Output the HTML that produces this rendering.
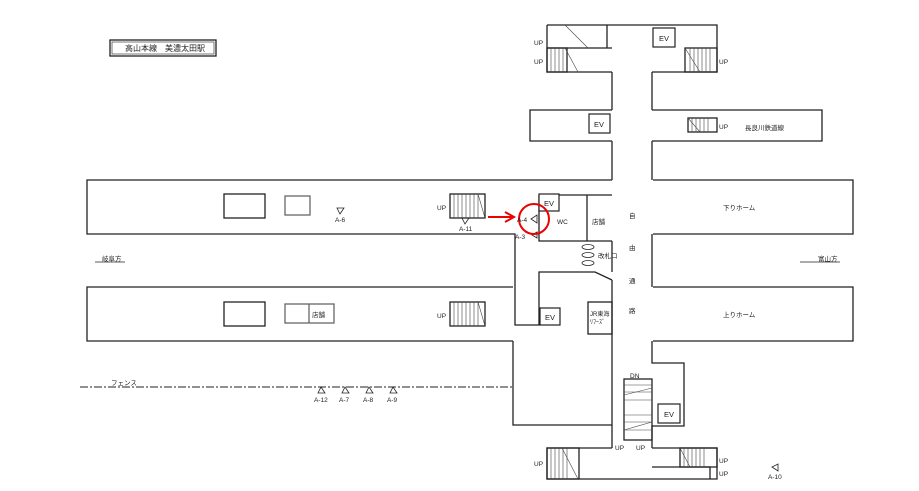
<!DOCTYPE html>
<html><head><meta charset="utf-8"><style>
html,body{margin:0;padding:0;background:#fff}
svg{display:block}
text{font-family:"Liberation Sans","Noto Sans CJK JP",sans-serif;fill:#222}
</style></head><body>
<svg width="919" height="491" viewBox="0 0 919 491" xmlns="http://www.w3.org/2000/svg">
<g fill="none" stroke="#222" stroke-width="1.3">
<rect x="110" y="40" width="106" height="16"/><rect x="112" y="42" width="102" height="12" stroke-width="0.6"/>
<path d="M513 180 H87 V234 H513"/>
<path d="M653 180 H853 V234 H653"/>
<path d="M513 180 H612"/>
<path d="M513 287 H87 V341 H513"/>
<path d="M653 287 H853 V341 H653"/>
<path d="M513 234 H515 V287"/>
<path d="M515 287 V325 H539 V272 H595 L612 280"/>
<path d="M539 195 V241 H612"/>
<path d="M539 195 H612"/>
<path d="M587 195 V241"/>
<rect x="588" y="302" width="24" height="32"/>
<path d="M513 341 V425 H612"/>
<path d="M612 72 V110 M612 141 V180 M612 241 V272 M612 280 V448"/>
<path d="M652 72 V110 M652 141 V180 M652 234 V287 M652 341 V363 H684 V426 H652 V448"/>
<path d="M547 25 H717 V72 H652"/>
<path d="M612 72 H547 V25"/>
<path d="M547 48 H612 M607 25 V48"/>
<path d="M612 110 H530 V141 H612"/>
<path d="M652 110 H822 V141 H652"/>
<path d="M612 448 H547 V479 H717 V448 H652"/>
<path d="M652 467 H710 V479"/>
<rect x="224" y="194" width="41" height="24"/>
<rect x="285" y="196" width="25" height="19" stroke="#666"/>
<rect x="224" y="302" width="41" height="24"/>
<rect x="285" y="304" width="49" height="19" stroke="#666"/><path d="M309 304 V323" stroke="#666"/>
<rect x="450" y="194" width="35" height="24"/>
<rect x="450" y="302" width="35" height="24"/>
<rect x="547" y="48" width="20" height="24"/>
<rect x="685" y="48" width="32" height="24"/>
<rect x="688" y="118" width="29" height="14"/>
<rect x="624" y="379" width="28" height="61"/>
<rect x="547" y="448" width="32" height="31"/>
<rect x="680" y="448" width="37" height="19"/>
</g>
<g stroke="#444" stroke-width="0.6">
<path d="M454 194V218M458 194V218M462 194V218M466 194V218M470 194V218M474 194V218M478 194V218"/>
<path d="M454 302V326M458 302V326M462 302V326M466 302V326M470 302V326M474 302V326M478 302V326"/>
<path d="M551 48V72M555 48V72M559 48V72M563 48V72"/>
<path d="M690 48V72M694 48V72M698 48V72M702 48V72M706 48V72M710 48V72"/>
<path d="M692 118V132M696 118V132M700 118V132M704 118V132M708 118V132"/>
<path d="M551 448V479M555 448V479M559 448V479M563 448V479M567 448V479"/>
<path d="M684 448V467M688 448V467M692 448V467M696 448V467M700 448V467M704 448V467"/>
<path d="M624 385H652M624 392H652M624 400H652M624 415H652M624 422H652M624 430H652"/>
<path d="M565 25 L588 48 M478 194 L485 218 M478 302 L485 326 M565 48 L578 72 M685 48 L700 72 M688 118 L700 132 M562 448 L578 479 M680 448 L690 467 M624 395 L652 388 M624 430 L652 422"/>
</g>
<g fill="#fff" stroke="#222" stroke-width="1.2">
<rect x="653" y="28" width="22" height="19"/><rect x="589" y="114" width="21" height="19"/>
<rect x="539" y="194" width="20" height="17"/><rect x="540" y="308" width="20" height="17"/>
<rect x="658" y="404" width="22" height="19"/>
</g>
<g font-size="7.5" text-anchor="middle">
<text x="664" y="41">EV</text><text x="599" y="127">EV</text><text x="549" y="206">EV</text><text x="550" y="320">EV</text><text x="669" y="417">EV</text>
</g>
<path d="M80 387 H513" stroke="#222" stroke-width="1" stroke-dasharray="8,2,2,2"/>
<g fill="none" stroke="#222" stroke-width="0.8"><ellipse cx="588" cy="247" rx="6" ry="2.5"/><ellipse cx="588" cy="255" rx="6" ry="2.5"/><ellipse cx="588" cy="263" rx="6" ry="2.5"/>
<path d="M337 208 L344 208 L340 214 Z M462 218 L469 218 L465 224 Z M537 215 L537 223 L531 219 Z M537 232 L537 238 L532 235 Z"/>
<path d="M318 393 L325 393 L321 387 Z M342 393 L349 393 L345 387 Z M366 393 L373 393 L369 387 Z M390 393 L397 393 L393 387 Z M778 464 L778 471 L772 467 Z"/>
<circle cx="534" cy="219" r="15" stroke="#e00" stroke-width="2"/>
<path d="M95 262 H125 M800 262 H840" stroke-width="0.8"/>
</g>
<path d="M488 217 H512" stroke="#e00" stroke-width="2"/><path d="M505 212 L514 217 L505 222" stroke="#e00" stroke-width="2" fill="none"/>
<g font-size="6.5">
<text x="125" y="51" font-size="8">高山本線　美濃太田駅</text>
<text x="335" y="222">A-6</text><text x="459" y="231">A-11</text><text x="517" y="222">A-4</text><text x="515" y="239">A-3</text>
<text x="437" y="210">UP</text><text x="437" y="318">UP</text>
<text x="534" y="45">UP</text><text x="534" y="64">UP</text><text x="719" y="64">UP</text><text x="719" y="129">UP</text>
<text x="615" y="450">UP</text><text x="636" y="450">UP</text><text x="630" y="378">DN</text>
<text x="534" y="466">UP</text><text x="719" y="463">UP</text><text x="719" y="476">UP</text>
<text x="557" y="224">WC</text><text x="592" y="224">店舗</text><text x="598" y="258">改札口</text>
<text x="590" y="316" font-size="6">JR東海</text><text x="590" y="324" font-size="6">ﾘﾌｰｽﾞ</text>
<text x="312" y="317">店舗</text>
<text x="629" y="218">自</text><text x="629" y="250">由</text><text x="629" y="283">通</text><text x="629" y="313">路</text>
<text x="745" y="130">長良川鉄道線</text><text x="723" y="210">下りホーム</text><text x="723" y="317">上りホーム</text>
<text x="102" y="261">岐阜方</text><text x="818" y="261">富山方</text><text x="111" y="385">フェンス</text>
<text x="314" y="402">A-12</text><text x="339" y="402">A-7</text><text x="363" y="402">A-8</text><text x="387" y="402">A-9</text><text x="768" y="479">A-10</text>
</g>
</svg>
</body></html>
